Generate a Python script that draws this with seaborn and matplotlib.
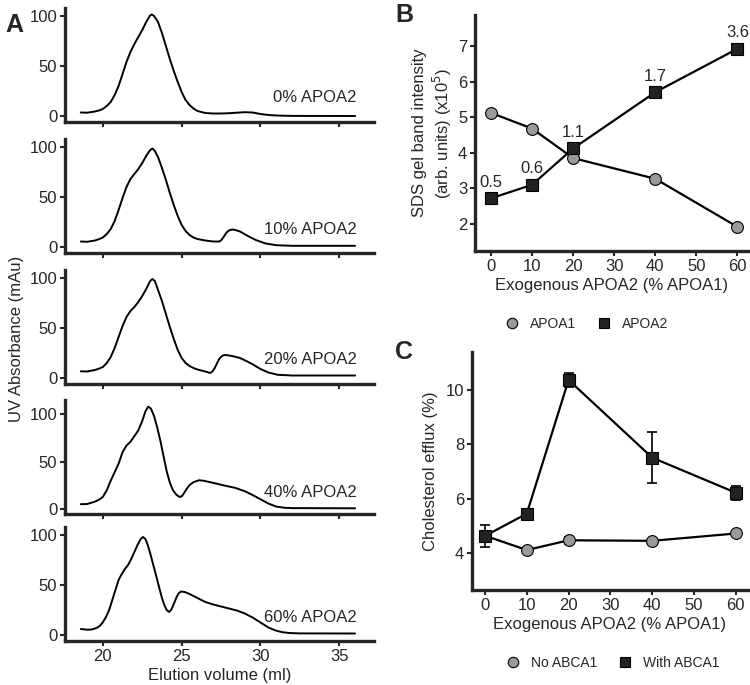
import matplotlib
matplotlib.use("Agg")
import matplotlib.pyplot as plt
from matplotlib.lines import Line2D
import seaborn as sns

sns.set_style("ticks")
plt.rcParams["font.family"] = ["Liberation Sans", "DejaVu Sans"]
plt.rcParams["font.size"] = 12

# ---- Panel A: elution profiles (ml, mAu)
vol_0 = [18.6, 19.0, 19.5, 19.75, 20.0, 20.25, 20.5, 20.75, 21.0, 21.25, 21.5, 21.75, 22.0, 22.25,
         22.5, 22.75, 23.0, 23.1, 23.25, 23.5, 23.75, 24.0, 24.25, 24.5, 24.75, 25.0, 25.25, 25.5,
         25.75, 26.0, 26.5, 27.0, 27.5, 28.0, 28.5, 29.0, 29.5, 30.0, 30.5, 31.0, 32.0, 36.0]
abs_0 = [3.5, 3.3, 4.5, 5.5, 7, 10, 14, 21, 30, 42, 54, 64, 72, 79,
         86, 94, 100.5, 101.5, 100, 94, 83, 70, 57, 45, 34, 24, 16, 11,
         7.5, 5, 3, 2.5, 2.5, 2.8, 3.3, 3.8, 3.5, 2, 1.0, 0.5, 0.1, 0]

vol_10 = [18.6, 19.0, 19.5, 19.75, 20.0, 20.25, 20.5, 20.75, 21.0, 21.25, 21.5, 21.75, 22.0, 22.25,
          22.5, 22.75, 23.0, 23.15, 23.3, 23.5, 23.75, 24.0, 24.25, 24.5, 24.75, 25.0, 25.25, 25.5,
          25.75, 26.0, 26.5, 27.0, 27.4, 27.55, 27.7, 27.85, 28.0, 28.2, 28.4, 28.7, 29.2, 29.7,
          30.3, 31.0, 32.0, 36.0]
abs_10 = [5.5, 5.2, 6.5, 7.8, 9.5, 13, 18, 26, 37, 49, 60, 68, 73, 78,
          84, 91, 97, 98.5, 96, 90, 79, 67, 54, 42, 31, 22, 16, 12,
          9.5, 8, 6.5, 5.5, 5.5, 7.5, 11, 14.5, 16.5, 17.5, 17, 15.5, 11, 7,
          3.6, 1.8, 1.2, 1.2]

vol_20 = [18.6, 19.0, 19.5, 19.75, 20.0, 20.25, 20.5, 20.75, 21.0, 21.25, 21.5, 21.75, 22.0, 22.25,
          22.5, 22.75, 23.0, 23.15, 23.3, 23.5, 23.75, 24.0, 24.25, 24.5, 24.75, 25.0, 25.25, 25.5,
          25.75, 26.0, 26.5, 26.8, 26.95, 27.1, 27.25, 27.4, 27.6, 27.8, 28.2, 28.7, 29.1, 29.5,
          30.0, 30.5, 31.1, 32.0, 36.0]
abs_20 = [6.7, 6.5, 8, 9.3, 11, 15, 21, 30, 41, 52, 61, 67, 71, 76,
          82, 89, 97, 99, 97, 88, 77, 64, 51, 39, 28, 20, 15, 12,
          10, 8.5, 6.5, 5, 6.5, 10, 15, 19.5, 22.5, 23, 22, 20, 17, 13.7,
          9, 5.5, 3.2, 2.5, 2.5]

vol_40 = [18.6, 19.0, 19.5, 19.75, 20.0, 20.25, 20.5, 20.75, 21.0, 21.25, 21.5, 21.75, 22.0, 22.25,
          22.5, 22.7, 22.88, 23.05, 23.25, 23.45, 23.65, 23.85, 24.05, 24.25, 24.45, 24.65, 24.85,
          25.0, 25.15, 25.3, 25.5, 25.75, 26.1, 26.4, 26.8, 27.2, 27.7, 28.4, 29.0, 29.5, 30.0,
          30.5, 31.0, 31.5, 32.0, 36.0]
abs_40 = [5.3, 5.5, 8, 10, 13, 20, 30, 39, 48, 60, 67, 71, 77, 83,
          93, 103, 108, 106, 98, 86, 72, 56, 40, 28, 20, 15.5, 13,
          13.5, 17, 21, 25.5, 28.5, 30.5, 30, 28.5, 27, 25, 22.5, 19, 15, 10.5,
          6, 2.8, 1.6, 1.2, 1.0]

vol_60 = [18.6, 19.0, 19.3, 19.6, 19.8, 20.0, 20.2, 20.4, 20.6, 20.8, 21.0, 21.2, 21.4, 21.6,
          21.8, 22.0, 22.2, 22.4, 22.55, 22.7, 22.85, 23.0, 23.15, 23.3, 23.45, 23.6, 23.75, 23.9,
          24.05, 24.2, 24.35, 24.5, 24.65, 24.8, 24.95, 25.2, 25.5, 26.0, 26.5, 27.0, 27.5, 28.0,
          28.5, 29.0, 29.5, 30.0, 30.5, 31.0, 31.4, 31.8, 32.5, 36.0]
abs_60 = [6, 5.3, 5.5, 7, 9, 12.7, 18, 25, 35, 45, 55, 61, 66, 70,
          76, 83, 90, 96, 98, 96, 90, 82, 73, 64, 55, 46, 37, 30,
          25, 23, 25.5, 31, 37, 41.5, 43.5, 43, 41, 37, 33, 30.5, 28.5, 26.5,
          24.5, 21.5, 17.5, 12.5, 7.5, 4.3, 2.8, 2, 1.6, 1.5]

conditions = ["0% APOA2", "10% APOA2", "20% APOA2", "40% APOA2", "60% APOA2"]

# ---- Panel B: SDS gel band intensity (x10^5)
pct_b = [0, 10, 20, 40, 60]
apoa1_b = [5.12, 4.68, 3.85, 3.27, 1.92]
apoa2_b = [2.72, 3.10, 4.12, 5.70, 6.92]
ratio_b = ["0.5", "0.6", "1.1", "1.7", "3.6"]

# ---- Panel C: cholesterol efflux (%)
pct_c = [0, 10, 20, 40, 60]
no_abca1 = [4.64, 4.11, 4.47, 4.45, 4.72]
no_abca1_err = [0.05, 0.05, 0.12, 0.05, 0.05]
with_abca1 = [4.63, 5.45, 10.37, 7.51, 6.22]
with_abca1_err = [0.40, 0.12, 0.25, 0.93, 0.25]

W, H = 750, 685
FS = 12
fig = plt.figure(figsize=(W / 100, H / 100), dpi=100)


def px_axes(left, top, right, bottom):
    return fig.add_axes([left / W, (H - bottom) / H, (right - left) / W, (bottom - top) / H])


def style_axes(ax):
    sns.despine(ax=ax)
    for s in ["left", "bottom"]:
        ax.spines[s].set_linewidth(2.4)
    ax.tick_params(direction="out", length=3.5, width=1.5, labelsize=FS, pad=2)
    ax.set_xlabel("")
    ax.set_ylabel("")


# Panel A
curves = [(vol_0, abs_0), (vol_10, abs_10), (vol_20, abs_20), (vol_40, abs_40), (vol_60, abs_60)]
bottoms = [122, 253, 384, 514, 641]
ylims = [(-6, 108), (-6, 108), (-6, 108), (-5, 115), (-6, 108)]
for i, ((vx, vy), label) in enumerate(zip(curves, conditions)):
    ax = px_axes(65, bottoms[i] - 114, 374, bottoms[i])
    sns.lineplot(x=vx, y=vy, ax=ax, color="black", linewidth=1.4,
                 solid_joinstyle="round", solid_capstyle="round")
    ax.set_xlim(17.6, 37.2)
    ax.set_ylim(*ylims[i])
    ax.set_yticks([0, 50, 100])
    ax.set_xticks([20, 25, 30, 35])
    if i < 4:
        ax.set_xticklabels([])
    style_axes(ax)
    ax.text(36.1, 18, label, ha="right", va="center", fontsize=FS)
    if i == 4:
        ax.set_xlabel("Elution volume (ml)", fontsize=FS, labelpad=3)

fig.text(17 / W, 1 - 339 / H, "UV Absorbance (mAu)", rotation=90, ha="center", va="center",
         fontsize=FS)

marker_o = dict(marker="o", markersize=8.5, markerfacecolor="#9a9a9a", markeredgecolor="black",
                markeredgewidth=0.8)
marker_s = dict(marker="s", markersize=8, markerfacecolor="#222222", markeredgecolor="black",
                markeredgewidth=0.8)

# Panel B
axb = px_axes(475, 15, 748, 251)
sns.lineplot(x=pct_b, y=apoa1_b, ax=axb, color="black", linewidth=1.6, **marker_o)
sns.lineplot(x=pct_b, y=apoa2_b, ax=axb, color="black", linewidth=1.6, **marker_s)
for x, y, t in zip(pct_b, apoa2_b, ratio_b):
    axb.annotate(t, (x, y), xytext=(0, 6), textcoords="offset points", ha="center",
                 va="bottom", fontsize=FS)
axb.set_xlim(-3.9, 62.6)
axb.set_ylim(1.24, 7.87)
axb.set_xticks([0, 10, 20, 30, 40, 50, 60])
axb.set_yticks([2, 3, 4, 5, 6, 7])
style_axes(axb)
axb.set_xlabel("Exogenous APOA2 (% APOA1)", fontsize=FS, labelpad=3)
axb.set_ylabel("SDS gel band intensity\n(arb. units) (x10$^5$)", fontsize=FS, labelpad=3)


def legend_handles():
    return [
        Line2D([], [], linestyle="none", **dict(marker_o, markersize=7.5)),
        Line2D([], [], linestyle="none", **dict(marker_s, markersize=7)),
    ]


leg_kw = dict(loc="center", ncol=2, frameon=False, fontsize=10, handlelength=1.0,
              handletextpad=0.8, columnspacing=1.5)
axb.legend(legend_handles(), ["APOA1", "APOA2"], bbox_to_anchor=(0.41, -0.31), **leg_kw)

# Panel C
axc = px_axes(472, 352, 748, 590)
axc.errorbar(pct_c, no_abca1, yerr=no_abca1_err, fmt="none", ecolor="black", elinewidth=1.2,
             capsize=3.5, capthick=1.2)
sns.lineplot(x=pct_c, y=no_abca1, ax=axc, color="black", linewidth=1.6, **marker_o)
axc.errorbar(pct_c, with_abca1, yerr=with_abca1_err, fmt="none", ecolor="black", elinewidth=1.2,
             capsize=3.5, capthick=1.2)
sns.lineplot(x=pct_c, y=with_abca1, ax=axc, color="black", linewidth=1.6, **marker_s)
axc.set_xlim(-3.1, 62.9)
axc.set_ylim(2.64, 11.4)
axc.set_xticks([0, 10, 20, 30, 40, 50, 60])
axc.set_yticks([4, 6, 8, 10])
style_axes(axc)
axc.set_xlabel("Exogenous APOA2 (% APOA1)", fontsize=FS, labelpad=3)
axc.set_ylabel("Cholesterol efflux (%)", fontsize=FS, labelpad=6)
axc.legend(legend_handles(), ["No ABCA1", "With ABCA1"], bbox_to_anchor=(0.51, -0.307), **leg_kw)

# panel letters
fig.text(5 / W, 1 - 25 / H, "A", fontsize=18, fontweight="bold", va="center", ha="left")
fig.text(395 / W, 1 - 15 / H, "B", fontsize=18, fontweight="bold", va="center", ha="left")
fig.text(395 / W, 1 - 352 / H, "C", fontsize=18, fontweight="bold", va="center", ha="left")

fig.savefig("out.png", dpi=100)
